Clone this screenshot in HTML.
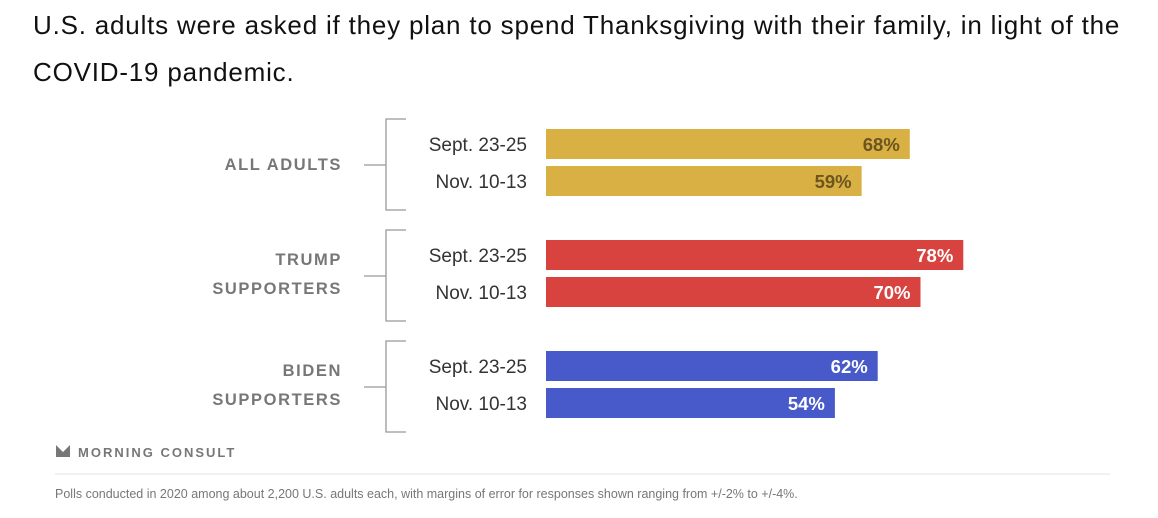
<!DOCTYPE html>
<html><head><meta charset="utf-8"><style>
body{margin:0;background:#fff;width:1158px;height:518px;overflow:hidden;font-family:"Liberation Sans",sans-serif;}
.title{position:absolute;left:33px;top:2px;width:1100px;font-size:26px;letter-spacing:0.8px;line-height:47px;color:#111;}
</style></head><body>
<div class="title">U.S. adults were asked if they plan to spend Thanksgiving with their family, in light of the COVID-19 pandemic.</div>
<svg id="chart" width="1158" height="518" style="position:absolute;left:0;top:0"></svg>
<script>
const groups = [["ALL ADULTS"], ["TRUMP","SUPPORTERS"], ["BIDEN","SUPPORTERS"]];
const periods = ["Sept. 23-25", "Nov. 10-13"];
const values = [[68, 59], [78, 70], [62, 54]];
const colors = ["#d9b043", "#d8433f", "#4859c9"];
const labelColors = ["#6b5520", "#ffffff", "#ffffff"];

const svg = document.getElementById('chart');
const NS = 'http://www.w3.org/2000/svg';
const x0 = 546, pxPerPct = 5.35;
const xScale = v => x0 + v * pxPerPct;
const groupTop = g => 129 + g * 111;
function mk(tag, attrs, text){
  const e = document.createElementNS(NS, tag);
  for (const k in attrs) e.setAttribute(k, attrs[k]);
  if (text !== undefined) e.textContent = text;
  svg.appendChild(e);
  return e;
}
groups.forEach((g, gi) => {
  const top = groupTop(gi);
  const mid = top + 34;
  const br = mk('path', {d:`M406 ${top-10} H386 V${top+81} H406 M386 ${mid+2} H364`, fill:'none', stroke:'#999', 'stroke-width':1.3});
  
  
  g.forEach((line, li) => {
    const y = g.length === 1 ? mid + 7 : mid - 9 + li * 29;
    const t = mk('text', {x:342, y:y, 'text-anchor':'end', 'font-size':16.5, 'font-weight':'bold', fill:'#777', 'letter-spacing':'1.6'}, line);
    
    
  });
  periods.forEach((p, pi) => {
    const y = top + pi * 37;
    const lab = mk('text', {x:527, y:y + 22, 'text-anchor':'end', 'font-size':19, fill:'#333'}, p);
    
    
    const v = values[gi][pi];
    const bar = mk('rect', {x:x0, y:y, width:xScale(v) - x0, height:30, fill:colors[gi]});
    
    
    const vl = mk('text', {x:xScale(v) - 10, y:y + 22, 'text-anchor':'end', 'font-size':18.5, 'font-weight':'bold', fill:labelColors[gi]}, v + '%');
    
    
  });
});
const logo = mk('path', {d:'M56 445 L63 452 L70 445 V457 H56 Z', fill:'#777'});


const brand = mk('text', {x:78, y:457, 'font-size':13, 'font-weight':'bold', fill:'#777', 'letter-spacing':'2'}, 'MORNING CONSULT');


const div = mk('line', {x1:55, x2:1110, y1:474, y2:474, stroke:'#e3e3e3', 'stroke-width':1});


const note = mk('text', {x:55, y:498, 'font-size':12.5, fill:'#777'}, 'Polls conducted in 2020 among about 2,200 U.S. adults each, with margins of error for responses shown ranging from +/-2% to +/-4%.');


</script>
</body></html>
